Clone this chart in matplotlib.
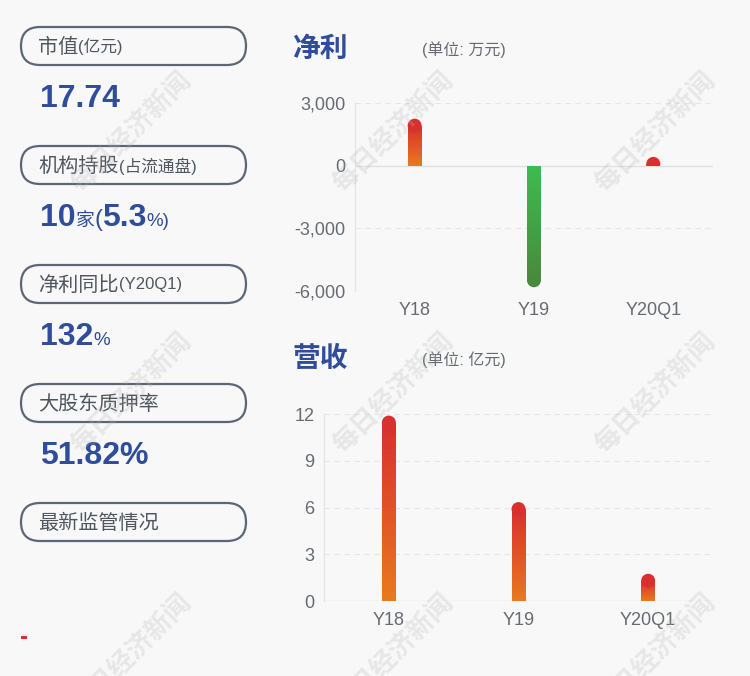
import matplotlib
matplotlib.use('Agg')
import matplotlib.pyplot as plt
import numpy as np
from matplotlib.patches import FancyBboxPatch, Rectangle
from matplotlib.colors import LinearSegmentedColormap
from matplotlib.ticker import FuncFormatter

plt.rcParams['font.family'] = ['Liberation Sans', 'Noto Sans CJK SC', 'DejaVu Sans']

# data
categories = ['Y18', 'Y19', 'Y20Q1']
net_profit = [2250, -5820, 420]       # 万元
revenue = [11.9, 6.35, 1.75]          # 亿元
profit_ticks = [3000, 0, -3000, -6000]
revenue_ticks = [0, 3, 6, 9, 12]

box_labels = [('市值', '(亿元)'), ('机构持股', '(占流通盘)'), ('净利同比', '(Y20Q1)'),
              ('大股东质押率', ''), ('最新监管情况', '')]
value_parts = [
    [('17.74', 'big')],
    [('10', 'big'), ('家', 'small'), ('(', 'mid'), ('5.3', 'big'), ('%)', 'small')],
    [('132', 'big'), ('%', 'small')],
    [('51.82%', 'big')],
]

BG = '#f8f8f8'
BLUE = '#2f4d9a'
GRAY = '#666b73'
warm = LinearSegmentedColormap.from_list('warm', ['#e8791d', '#d92f2f'])
green = LinearSegmentedColormap.from_list('green', ['#4a8a3c', '#3dbb50'])

fig = plt.figure(figsize=(7.5, 6.76), dpi=100, facecolor=BG)

# background overlay axes in pixel coordinates
bg = fig.add_axes([0, 0, 1, 1], zorder=-1)
bg.set_xlim(0, 750)
bg.set_ylim(676, 0)
bg.axis('off')
bg.set_facecolor(BG)

renderer = fig.canvas.get_renderer()
sizes = {'big': 23, 'mid': 17, 'small': 13.5}

for i, (main, sub) in enumerate(box_labels):
    cy = 46 + 119 * i
    box = FancyBboxPatch((21, cy - 19), 225, 38, boxstyle='round,pad=0,rounding_size=19',
                         fc='none', ec='#5b6676', lw=1.6)
    bg.add_patch(box)
    t = bg.text(38, cy + 1, main, fontsize=14.5, color='#4f5660', va='center', ha='left')
    if sub:
        ext = t.get_window_extent(renderer)
        x = bg.transData.inverted().transform((ext.x1, 0))[0]
        bg.text(x, cy + 1, sub, fontsize=12, color='#4f5660', va='center', ha='left')

for i, parts in enumerate(value_parts):
    base = 107 + 119 * i
    x = 40
    for txt, kind in parts:
        w = 'bold' if kind == 'big' else 'normal'
        t = bg.text(x, base, txt, fontsize=sizes[kind], fontweight=w, color=BLUE,
                    va='baseline', ha='left')
        ext = t.get_window_extent(renderer)
        x = x + ext.width

bg.add_patch(Rectangle((21, 636), 6, 2.5, fc='#d9302e', ec='none'))


def gradient_bars(ax, values, width, nseg=60):
    # bar width in pixels -> round cap radius in data units
    p0 = ax.transData.transform((0, 0))
    p1 = ax.transData.transform((width, 1))
    w_px = p1[0] - p0[0]
    px_per_unit = p1[1] - p0[1]
    cap_r = (w_px / 2) / px_per_unit
    s = (w_px * 72 / fig.dpi) ** 2
    for i, v in enumerate(values):
        cmap = warm if v >= 0 else green
        if v >= 0:
            end = max(v - cap_r, 0)
            lo, hi = 0, end
            cap_col = cmap(1.0)
            clip = Rectangle((i - width, 0), 2 * width, 1e6, transform=ax.transData)
        else:
            end = min(v + cap_r, 0)
            lo, hi = end, 0
            cap_col = cmap(0.0)
            clip = Rectangle((i - width, -1e6), 2 * width, 1e6, transform=ax.transData)
        if hi > lo:
            edges = np.linspace(lo, hi, nseg + 1)
            fr = np.linspace(0, 1, nseg)
            ax.bar([i] * nseg, np.diff(edges), bottom=edges[:-1], width=width,
                   color=cmap(fr), edgecolor='none', linewidth=0, zorder=3)
        sc = ax.scatter([i], [end], s=s, color=cap_col, edgecolors='none', zorder=3)
        sc.set_clip_path(clip)


def style_axis(ax, ticks, fmt):
    ax.set_facecolor('none')
    for s in ['top', 'right', 'bottom']:
        ax.spines[s].set_visible(False)
    ax.spines['left'].set_color('#e3e3e3')
    ax.set_yticks(ticks)
    ax.yaxis.set_major_formatter(FuncFormatter(fmt))
    ax.set_xticks(range(len(categories)))
    ax.set_xticklabels(categories)
    ax.tick_params(length=0, labelsize=13, colors=GRAY)
    ax.tick_params(axis='y', pad=7)
    ax.tick_params(axis='x', pad=8)
    for t in ticks:
        if t == 0:
            ax.axhline(0, color='#e0e0e0', lw=1, zorder=1)
        else:
            ax.axhline(t, color='#e6e6e6', lw=0.8, ls=(0, (5, 4)), zorder=1)


# net profit chart
ax1 = fig.add_axes([0.4733, 0.5695, 0.4773, 0.2781])
style_axis(ax1, profit_ticks, lambda v, p: f'{int(v):,}')
ax1.set_ylim(-6000, 3000)
ax1.set_xlim(-0.5, 2.5)
gradient_bars(ax1, net_profit, 0.117)
ax1.set_ylim(-6000, 3000)
ax1.set_xlim(-0.5, 2.5)

# revenue chart
ax2 = fig.add_axes([0.432, 0.1109, 0.5187, 0.2766])
style_axis(ax2, revenue_ticks, lambda v, p: f'{int(v)}')
ax2.set_ylim(0, 12)
ax2.set_xlim(-0.5, 2.5)
gradient_bars(ax2, revenue, 0.108)
ax2.set_ylim(0, 12)
ax2.set_xlim(-0.5, 2.5)

# titles
bg.text(292, 50, '净利', fontsize=20, fontweight='bold', color=BLUE, va='center')
bg.text(422, 50, '(单位: 万元)', fontsize=11.5, color=GRAY, va='center')
bg.text(292, 360, '营收', fontsize=20, fontweight='bold', color=BLUE, va='center')
bg.text(422, 360, '(单位: 亿元)', fontsize=11.5, color=GRAY, va='center')

# watermarks
for wx in [131, 393, 655]:
    for wy in [132, 393, 654]:
        fig.text(wx / 750, 1 - wy / 676, '每日经济新闻', fontsize=19, fontweight='bold',
                 color='#b5b5b5', alpha=0.25, rotation=45, ha='center', va='center',
                 zorder=10)

fig.savefig('out.png', dpi=100, facecolor=BG)
